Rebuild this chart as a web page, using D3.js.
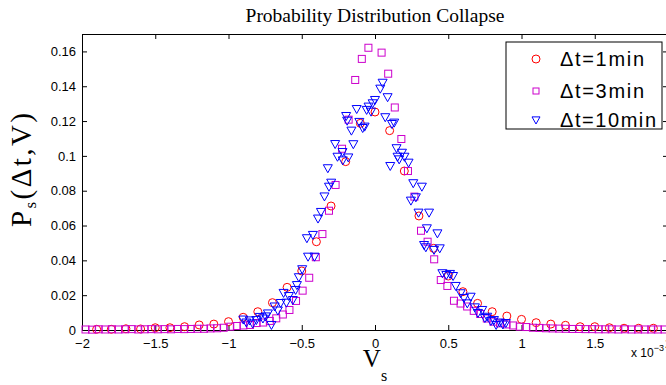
<!DOCTYPE html>
<html>
<head>
<meta charset="utf-8">
<script src="https://cdn.jsdelivr.net/npm/d3@7"></script>
<style>
body{margin:0;background:#fff;}
text{font-family:"Liberation Sans",Arial,sans-serif;fill:#000;}
.serif{font-family:"Liberation Serif","Times New Roman",serif;}
</style>
</head>
<body>
<svg id="chart" width="666" height="385"></svg>
<script>
// axis ticks (V_s in units of 1e-3)
var xTicks = [-2, -1.5, -1, -0.5, 0, 0.5, 1, 1.5, 2];
var yTicks = [0, 0.02, 0.04, 0.06, 0.08, 0.1, 0.12, 0.14, 0.16];
var seriesNames = ["\u0394t=1min", "\u0394t=3min", "\u0394t=10min"];

// dt = 1min (circles)
var v1 = [-1.9,-1.8,-1.7,-1.6,-1.5,-1.4,-1.3,-1.2,-1.1,-1.0,-0.9,-0.8,-0.7,-0.6,-0.5,-0.4,-0.3,-0.2,-0.1,0,
          0.1,0.2,0.3,0.4,0.5,0.6,0.7,0.8,0.9,1.0,1.1,1.2,1.3,1.4,1.5,1.6,1.7,1.8,1.9];
var p1 = [0.0004,0.0004,0.0007,0.0006,0.0013,0.0013,0.0019,0.0029,0.0034,0.0048,0.0073,0.0105,0.0157,0.0245,0.0339,0.0507,0.0712,0.0967,0.1187,0.1252,
          0.1145,0.0913,0.0655,0.0469,0.031,0.022,0.0153,0.0105,0.008,0.0061,0.0042,0.0034,0.0027,0.0019,0.0019,0.0013,0.001,0.001,0.001];

// dt = 3min (squares)
var v3 = [-1.976,-1.931,-1.886,-1.841,-1.796,-1.751,-1.706,-1.661,-1.616,-1.572,-1.527,-1.482,-1.437,-1.392,-1.347,-1.302,-1.257,-1.212,-1.167,-1.123,
          -1.078,-1.033,-0.988,-0.943,-0.898,-0.853,-0.808,-0.763,-0.718,-0.674,-0.629,-0.584,-0.539,-0.494,-0.449,-0.404,-0.359,-0.314,-0.269,-0.225,
          -0.180,-0.135,-0.090,-0.045,
          0.045,0.090,0.135,0.180,0.225,0.269,0.314,0.359,0.404,0.449,0.494,0.539,0.584,0.629,0.674,0.718,0.763,0.808,0.853,0.898,
          0.943,0.988,1.033,1.078,1.123,1.167,1.212,1.257,1.302,1.347,1.392,1.437,1.482,1.527,1.572,1.616,1.661,1.706,1.751,1.796,
          1.841,1.886,1.931,1.976];
var p3 = [0.0003,0.0002,0.0004,0.0003,0.0004,0.0003,0.0004,0.0005,0.0003,0.0004,0.0005,0.0004,0.0005,0.0004,0.0006,0.0005,0.0006,0.0007,0.0007,0.0009,
          0.0010,0.0013,0.0019,0.0023,0.0026,0.0029,0.0040,0.0043,0.0052,0.0067,0.0089,0.0115,0.0167,0.0226,0.0300,0.0418,0.0551,0.0685,0.0833,0.1041,
          0.1208,0.1436,0.1557,0.1621,
          0.1593,0.1472,0.1278,0.1097,0.0913,0.0766,0.0570,0.0507,0.0406,0.0287,0.0253,0.0168,0.0152,0.0135,0.0110,0.0092,0.0066,0.0048,0.0038,0.0032,
          0.0026,0.0019,0.0017,0.0013,0.0012,0.0010,0.0009,0.0008,0.0007,0.0006,0.0006,0.0005,0.0005,0.0004,0.0004,0.0004,0.0003,0.0004,0.0003,0.0003,
          0.0003,0.0003,0.0003,0.0003];

// dt = 10min (triangles)
var v10 = [-0.899,-0.878,-0.855,-0.835,-0.810,-0.787,-0.765,-0.746,-0.731,-0.707,-0.685,-0.663,-0.644,-0.624,-0.605,-0.588,-0.561,-0.542,-0.533,-0.520,
           -0.497,-0.465,-0.457,-0.424,-0.413,-0.389,-0.369,-0.345,-0.322,-0.314,-0.299,-0.272,-0.256,-0.222,-0.220,-0.197,-0.190,-0.182,-0.161,-0.148,
           -0.125,-0.107,-0.084,-0.071,-0.057,-0.044,-0.027,-0.016,0.000,0.036,0.052,0.070,0.086,0.104,0.116,0.131,0.147,0.154,0.165,0.184,
           0.201,0.229,0.245,0.261,0.279,0.297,0.320,0.335,0.347,0.354,0.369,0.403,0.426,0.442,0.460,0.487,0.512,0.533,0.551,0.585,
           0.607,0.630,0.653,0.682,0.703,0.732,0.750,0.766,0.791,0.812,0.827,0.852,0.873,0.893];
var p10 = [0.0060,0.0043,0.0055,0.0037,0.0057,0.0075,0.0066,0.0078,0.0095,0.0029,0.0135,0.0112,0.0155,0.0213,0.0157,0.0195,0.0172,0.0230,0.0258,0.0303,
           0.0349,0.0527,0.0421,0.0546,0.0421,0.0640,0.0678,0.0767,0.0929,0.0823,0.0846,0.1068,0.0995,0.1022,0.0974,0.1229,0.1202,0.0991,0.1145,0.1067,
           0.1269,0.1195,0.1160,0.1168,0.1264,0.1283,0.1254,0.1302,0.1321,0.1386,0.1420,0.1222,0.1337,0.0942,0.1183,0.1191,0.1044,0.0995,0.0980,0.1018,
           0.0995,0.0961,0.0743,0.0843,0.0762,0.0674,0.0823,0.0488,0.0475,0.0584,0.0674,0.0460,0.0555,0.0469,0.0326,0.0316,0.0322,0.0310,0.0253,0.0211,
           0.0184,0.0153,0.0191,0.0130,0.0098,0.0115,0.0069,0.0076,0.0052,0.0057,0.0029,0.0043,0.0032,0.0040];

var svg = d3.select("#chart");
var padL = 82, padR = 668, padT = 34, padB = 330;

var x = d3.scaleLinear().domain([-2, 2]).range([padL, padR]);
var y = d3.scaleLinear().domain([0, 0.17]).range([padB, padT]);

// title
svg.append("text").attr("class", "serif")
    .attr("x", (padL + padR) / 2).attr("y", 22)
    .attr("text-anchor", "middle").style("font-size", "19.5px")
    .text("Probability Distribution Collapse");

// axes (ticks inward, box on all sides)
var tl = 5;
svg.append("g").attr("transform", "translate(0," + padB + ")")
    .call(d3.axisBottom(x).tickValues(xTicks).tickSize(-tl).tickPadding(9)
        .tickFormat(function(d){ return d < 0 ? "\u2212" + Math.abs(d) : d; }));
svg.append("g").attr("transform", "translate(0," + padT + ")")
    .call(d3.axisTop(x).tickValues(xTicks).tickSize(-tl).tickFormat(""));
svg.append("g").attr("transform", "translate(" + padL + ",0)")
    .call(d3.axisLeft(y).tickValues(yTicks).tickSize(-tl).tickPadding(6)
        .tickFormat(function(d){ return d3.format("~g")(d); }));
svg.append("g").attr("transform", "translate(" + padR + ",0)")
    .call(d3.axisRight(y).tickValues(yTicks).tickSize(-tl).tickFormat(""));

svg.selectAll(".domain").attr("stroke", "#000").attr("stroke-width", 1);
svg.selectAll(".tick line").attr("stroke", "#000");
svg.selectAll(".tick text").style("font-size", "13px").style("font-family", "'Liberation Sans',Arial,sans-serif").attr("fill", "#000");

// markers
var plot = svg.append("g");
var d1 = v1.map(function(v, i){ return {v: v, p: p1[i]}; });
var d3m = v3.map(function(v, i){ return {v: v, p: p3[i]}; });
var d10 = v10.map(function(v, i){ return {v: v, p: p10[i]}; });

plot.selectAll(".c1").data(d1).enter().append("circle")
    .attr("cx", function(d){ return x(d.v); })
    .attr("cy", function(d){ return y(d.p); })
    .attr("r", 4).attr("fill", "none").attr("stroke", "#ff0000").attr("stroke-width", 1);

plot.selectAll(".c3").data(d3m).enter().append("rect")
    .attr("x", function(d){ return x(d.v) - 3.5; })
    .attr("y", function(d){ return y(d.p) - 3.5; })
    .attr("width", 7).attr("height", 7)
    .attr("fill", "none").attr("stroke", "#cc00cc").attr("stroke-width", 1);

function tri(cx, cy, s){
    return "M" + (cx - s) + "," + (cy - s * 0.78) + "L" + (cx + s) + "," + (cy - s * 0.78) + "L" + cx + "," + (cy + s) + "Z";
}
plot.selectAll(".c10").data(d10).enter().append("path")
    .attr("d", function(d){ return tri(x(d.v), y(d.p), 4.5); })
    .attr("fill", "none").attr("stroke", "#0000ff").attr("stroke-width", 1);

// axis labels
var xl = svg.append("text").attr("class", "serif").attr("x", x(0)).attr("y", 367)
    .attr("text-anchor", "middle").style("font-size", "25px");
xl.append("tspan").text("V");
xl.append("tspan").attr("dy", 14).style("font-size", "16px").text("s");

var yl = svg.append("text").attr("class", "serif")
    .attr("transform", "translate(31,170) rotate(-90)")
    .attr("text-anchor", "middle").style("font-size", "29px")
    .attr("textLength", 114).attr("lengthAdjust", "spacing");
yl.append("tspan").text("P");
yl.append("tspan").attr("dy", 5).style("font-size", "17px").text("s");
yl.append("tspan").attr("dy", -5).text("(\u0394t,V)");

// exponent
var ex = svg.append("text").attr("x", 631).attr("y", 357).style("font-size", "12px");
ex.append("tspan").text("x 10");
ex.append("tspan").attr("dy", -6).style("font-size", "9px").text("\u22123");

// legend
var lg = svg.append("g");
lg.append("rect").attr("x", 506).attr("y", 42).attr("width", 156).attr("height", 87)
    .attr("fill", "#fff").attr("stroke", "#000").attr("stroke-width", 1);
var rowsY = [59, 91, 120];
var rowsW = [84, 84, 96];
lg.append("circle").attr("cx", 536).attr("cy", rowsY[0]).attr("r", 4)
    .attr("fill", "none").attr("stroke", "#ff0000");
lg.append("rect").attr("x", 533).attr("y", rowsY[1] - 3).attr("width", 6).attr("height", 6)
    .attr("fill", "none").attr("stroke", "#cc00cc");
lg.append("path").attr("d", tri(536, rowsY[2], 4))
    .attr("fill", "none").attr("stroke", "#0000ff");
lg.selectAll(".lt").data(seriesNames).enter().append("text")
    .attr("x", 560).attr("y", function(d, i){ return rowsY[i] + 7; })
    .style("font-size", "20px")
    .attr("textLength", function(d, i){ return rowsW[i]; }).attr("lengthAdjust", "spacing")
    .text(function(d){ return d; });
</script>
</body>
</html>
